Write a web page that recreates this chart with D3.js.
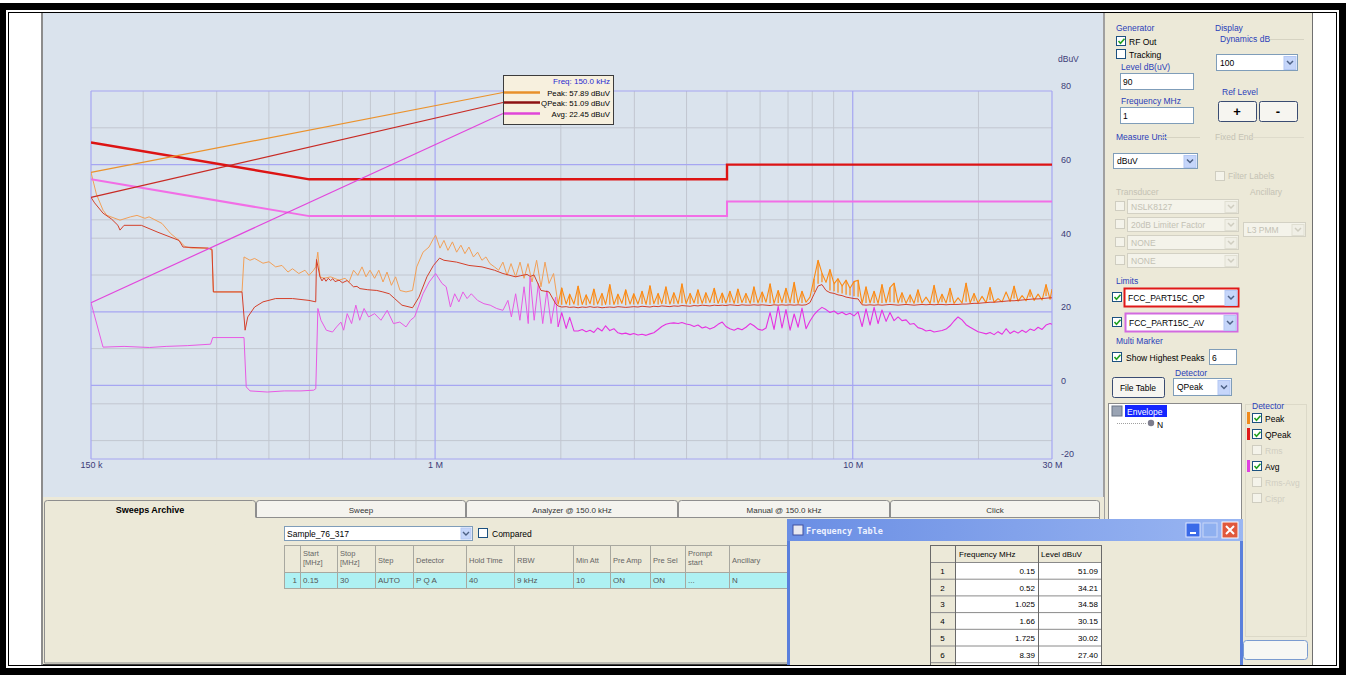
<!DOCTYPE html>
<html>
<head>
<meta charset="utf-8">
<script src="https://cdn.jsdelivr.net/npm/d3@7"></script>
<style>
  body { margin: 0; background: #fff; }
  svg { display: block; font-family: "Liberation Sans", Arial, sans-serif; }
</style>
</head>
<body>
<script>
/* ===== DATA ===== */

var freqTicks = [0.15, 1, 10, 30];
var freqTickNames = ['150 k', '1 M', '10 M', '30 M'];
var freqMinor = [0.2, 0.3, 0.4, 0.5, 0.6, 0.7, 0.8, 0.9, 2, 3, 4, 5, 6, 7, 8, 9, 20];
var levelTicks = [80, 60, 40, 20, 0, -20];
var levelMajor = [80, 60, 20, 0, -20];
var levelMinor = [70, 45, 40, 30, 10, -5, -15];

var limitFreqs = [0.15, 0.5, 5, 5, 30];
var qpLimit = [66, 56, 56, 60, 60];
var avLimit = [56, 46, 46, 50, 50];

// below 1.95 MHz: [MHz, dBuV]
var lfPeak = [[0.150,57.9],[0.1545,52.0],[0.1603,47.6],[0.1638,46.2],[0.176,44.9],[0.1865,45.8],[0.1933,46.2],
  [0.202,45.4],[0.2066,45.8],[0.2219,44.0],[0.2325,41.3],[0.2437,39.4],[0.2519,37.7],[0.261,37.3],[0.2859,37.3],
  [0.2923,36.7],[0.2945,25.4],[0.3449,25.4],[0.3487,34.9],[0.3604,34.0],[0.3697,34.5],[0.3872,33.2],[0.4002,33.6],
  [0.4152,32.2],[0.4299,32.6],[0.4444,30.8],[0.4556,31.7],[0.4717,30.4],[0.4881,31.3],[0.499,29.9],[0.5118,31.3],
  [0.5178,32.2],[0.5238,36.2],[0.5302,29.5],[0.542,29.1],[0.5621,29.5],[0.5888,28.6],[0.6086,29.1],[0.6222,28.1],
  [0.6378,31.3],[0.6531,29.9],[0.6684,32.2],[0.6833,29.5],[0.6985,31.3],[0.7165,29.1],[0.7332,31.3],[0.7504,28.1],
  [0.7671,30.8],[0.786,27.2],[0.8044,29.5],[0.8241,25.8],[0.8518,25.4],[0.8829,25.8],[0.9035,32.2],[0.9355,36.2],
  [0.9669,37.6],[0.9912,39.9],[1.0028,40.8],[1.0274,37.3],[1.05,39.4],[1.0734,36.7],[1.1003,39.0],[1.1261,36.2],
  [1.1531,38.1],[1.1788,35.8],[1.2051,37.6],[1.2354,34.9],[1.2643,36.2],[1.2946,34.0],[1.3235,34.9],[1.353,33.1],
  [1.387,32.2],[1.4195,31.3],[1.4535,33.5],[1.4868,29.9],[1.5199,33.1],[1.5589,29.5],[1.5972,33.5],[1.6329,29.1],
  [1.6692,33.1],[1.7064,28.1],[1.7502,34.0],[1.7931,26.8],[1.8331,33.5],[1.874,27.7],[1.9215,30.4]];

var lfQPeak = [[0.150,51.1],[0.153,49.6],[0.1603,46.8],[0.168,45.2],[0.174,43.5],[0.176,42.2],[0.180,43.5],
  [0.198,43.5],[0.217,41.6],[0.2437,39.4],[0.2491,37.6],[0.2859,37.3],[0.2923,37.0],[0.2945,25.4],[0.3449,25.4],
  [0.3508,15.0],[0.356,18.6],[0.3697,21.3],[0.3872,22.7],[0.4152,23.6],[0.4556,23.6],[0.499,23.1],[0.5178,22.7],
  [0.52,34.2],[0.5302,29.5],[0.536,28.4],[0.542,29.2],[0.548,28.3],[0.555,29.1],[0.5621,28.5],[0.569,29.0],
  [0.576,28.2],[0.5888,28.6],[0.600,27.9],[0.616,28.5],[0.627,27.6],[0.6378,26.8],[0.650,26.9],[0.661,26.3],
  [0.690,26.0],[0.725,25.8],[0.750,25.4],[0.777,24.9],[0.800,23.6],[0.833,21.8],[0.883,21.1],[0.915,24.0],
  [0.956,29.5],[0.991,32.6],[1.025,34.58],[1.05,34.0],[1.126,33.5],[1.205,32.6],[1.295,32.2],[1.387,31.3],
  [1.4535,30.4],[1.559,29.5],[1.60,29.8],[1.66,30.15],[1.69,29.6],[1.725,30.02],[1.793,25.8],[1.874,25.4],[1.944,22.2]];

var lfAvg = [[0.150,22.45],[0.1603,10.4],[0.180,10.6],[0.207,10.3],[0.227,10.6],[0.255,10.8],[0.290,11.2],
  [0.2935,13.0],[0.3487,13.0],[0.353,-0.4],[0.3604,-1.5],[0.3965,-1.8],[0.4354,-1.5],[0.4774,-1.5],[0.512,-1.3],
  [0.518,-0.9],[0.524,20.9],[0.533,17.7],[0.549,15.0],[0.568,14.5],[0.581,15.9],[0.595,17.2],[0.604,15.0],
  [0.616,19.5],[0.631,16.8],[0.646,21.8],[0.660,17.7],[0.676,20.9],[0.693,18.6],[0.7165,19.5],[0.742,17.7],
  [0.768,20.4],[0.795,16.8],[0.823,17.2],[0.852,15.9],[0.873,17.7],[0.893,18.6],[0.9355,24.9],[0.968,28.1],
  [1.003,30.4],[1.039,27.7],[1.063,26.8],[1.088,21.3],[1.114,24.9],[1.140,22.7],[1.166,25.4],[1.193,23.6],
  [1.221,24.9],[1.264,23.1],[1.309,22.2],[1.355,21.8],[1.404,20.9],[1.4535,20.4],[1.494,23.1],[1.523,18.6],
  [1.559,24.9],[1.596,17.7],[1.633,26.8],[1.671,16.8],[1.688,29.5],[1.727,17.7],[1.767,27.7],[1.810,16.8],
  [1.852,25.8],[1.895,16.8],[1.944,24.0]];

// from 1.97 MHz on, the three detectors share the sweep frequencies
var hfFreqs = [1.97, 2.01, 2.06, 2.10, 2.15, 2.20, 2.25, 2.30, 2.35, 2.40,
  2.45, 2.51, 2.56, 2.62, 2.68, 2.74, 2.80, 2.86, 2.93, 2.99,
  3.06, 3.13, 3.20, 3.27, 3.34, 3.42, 3.49, 3.57, 3.65, 3.73,
  3.82, 3.90, 3.99, 4.08, 4.17, 4.26, 4.36, 4.45, 4.55, 4.66,
  4.76, 4.87, 4.97, 5.08, 5.20, 5.31, 5.43, 5.55, 5.68, 5.80,
  5.93, 6.07, 6.20, 6.34, 6.48, 6.63, 6.77, 6.92, 7.08, 7.24,
  7.40, 7.56, 7.73, 7.90, 8.08, 8.26, 8.44, 8.63, 8.82, 9.02,
  9.22, 9.43, 9.64, 9.85, 10.07, 10.30, 10.53, 10.76, 11.00, 11.25,
  11.50, 11.75, 12.02, 12.28, 12.56, 12.84, 13.12, 13.42, 13.72, 14.02,
  14.33, 14.65, 14.98, 15.32, 15.66, 16.01, 16.36, 16.73, 17.10, 17.48,
  17.87, 18.27, 18.68, 19.10, 19.52, 19.96, 20.40, 20.86, 21.32, 21.80,
  22.28, 22.78, 23.29, 23.81, 24.34, 24.88, 25.44, 26.00, 26.58, 27.18,
  27.78, 28.40, 29.03, 29.68, 30.00];

var hfPeak = [22.0, 26.5, 22.1, 24.8, 22.1, 27.0, 22.0, 24.6, 22.2, 26.2,
  22.1, 25.0, 22.0, 27.4, 22.0, 24.8, 22.3, 26.0, 22.1, 24.9,
  22.1, 25.6, 22.0, 27.1, 22.2, 25.0, 22.2, 26.8, 22.1, 25.2,
  22.2, 27.6, 22.2, 25.0, 22.4, 26.0, 22.3, 25.2, 22.5, 26.4,
  22.3, 25.1, 22.4, 25.6, 22.3, 26.2, 22.5, 25.0, 22.3, 26.8,
  22.4, 25.4, 22.6, 27.6, 22.3, 25.8, 22.5, 26.4, 22.4, 28.0,
  22.3, 25.6, 22.6, 24.0, 29.0, 34.0, 30.5, 28.0, 31.5, 27.6,
  29.0, 27.0, 28.6, 26.4, 28.2, 28.6, 22.3, 26.8, 22.4, 25.6,
  22.3, 27.4, 22.5, 26.6, 27.8, 22.4, 25.2, 22.3, 24.6, 22.3,
  26.0, 22.4, 24.0, 22.3, 27.2, 22.3, 24.8, 22.4, 26.4, 22.3,
  23.8, 22.4, 27.8, 22.4, 25.0, 22.4, 24.2, 22.5, 26.6, 22.6,
  23.6, 22.7, 25.4, 22.8, 27.0, 22.9, 24.4, 23.0, 26.0, 23.1,
  24.8, 23.2, 27.4, 23.4, 26.2];

var hfQPeak = [21.6, 21.3, 21.4, 21.2, 21.3, 21.1, 21.3, 21.2, 21.4, 21.2,
  21.3, 21.1, 21.2, 21.3, 21.2, 21.4, 21.3, 21.2, 21.3, 21.4,
  21.3, 21.5, 21.4, 21.3, 21.5, 21.4, 21.6, 21.5, 21.4, 21.6,
  21.5, 21.7, 21.6, 21.5, 21.7, 21.6, 21.8, 21.7, 21.6, 21.8,
  21.7, 21.8, 21.7, 21.9, 21.8, 21.7, 21.9, 21.8, 21.8, 21.9,
  21.8, 21.9, 21.8, 21.7, 21.9, 21.8, 21.9, 21.8, 21.9, 21.8,
  21.9, 21.8, 21.9, 22.5, 24.8, 27.0, 27.4, 25.8, 25.2, 25.0,
  24.6, 24.4, 24.0, 23.8, 23.6, 23.5, 21.9, 21.8, 21.9, 21.8,
  21.9, 21.8, 21.9, 22.0, 21.9, 21.8, 21.9, 22.0, 21.9, 21.8,
  21.9, 22.0, 21.9, 22.0, 21.9, 22.0, 22.0, 21.9, 22.0, 22.0,
  22.0, 22.1, 22.1, 22.2, 22.3, 22.3, 22.4, 22.5, 22.6, 22.6,
  22.7, 22.8, 22.9, 23.0, 23.0, 23.1, 23.2, 23.3, 23.4, 23.5,
  23.5, 23.6, 23.7, 23.8, 23.8];

var hfAvg = [15.9, 19.8, 15.5, 18.5, 14.8, 14.8, 15.2, 14.6, 15.0, 14.4,
  15.6, 14.8, 16.2, 14.9, 15.4, 14.3, 14.0, 14.2, 13.8, 14.1,
  13.7, 13.9, 13.6, 14.0, 14.3, 15.2, 16.0, 16.6, 16.9, 17.0,
  16.8, 17.1, 16.7, 16.5, 16.0, 16.4, 15.6, 15.9, 15.3, 15.8,
  16.6, 17.2, 16.0, 15.4, 15.0, 15.5, 15.1, 15.8, 16.8, 16.2,
  15.3, 15.0, 15.6, 19.8, 15.2, 21.5, 15.6, 20.6, 15.0, 19.4,
  15.8, 21.0, 15.4, 17.5, 19.2, 20.4, 21.2, 20.6, 19.8, 20.2,
  19.4, 19.9, 19.2, 19.6, 18.9, 20.0, 16.0, 20.8, 16.4, 21.2,
  16.8, 20.5, 17.4, 19.8, 17.6, 18.6, 17.6, 17.8, 16.6, 16.8,
  15.7, 15.4, 14.8, 15.0, 14.5, 14.7, 14.9, 15.3, 16.2, 17.5,
  18.6, 17.8, 16.5, 15.8, 15.2, 14.6, 14.3, 14.0, 14.4, 13.8,
  14.6, 13.9, 15.4, 14.1, 14.8, 14.2, 15.0, 14.4, 15.3, 14.9,
  15.8, 15.2, 16.4, 16.8, 16.6];

var cursorFreq = 0.15;
var cursorNames = ['Peak', 'QPeak', 'Avg'];
var cursorValues = [57.89, 51.09, 22.45];

var tableFreqs = [0.15, 0.52, 1.025, 1.66, 1.725, 8.39];
var tableLevels = [51.09, 34.21, 34.58, 30.15, 30.02, 27.40];

var tabNames = ['Sweeps Archive', 'Sweep', 'Analyzer @ 150.0 kHz', 'Manual @ 150.0 kHz', 'Click'];
var sweepHeads = ['', 'Start|[MHz]', 'Stop|[MHz]', 'Step', 'Detector', 'Hold Time', 'RBW', 'Min Att',
  'Pre Amp', 'Pre Sel', 'Prompt|start', 'Ancillary'];
var sweepRow = ['1', '0.15', '30', 'AUTO', 'P Q A', '40', '9 kHz', '10', 'ON', 'ON', '...', 'N'];


/* ===== PAGE ===== */

var svg = d3.select('body')
  .append('svg')
  .attr('width', 1346)
  .attr('height', 675);

var defs = svg.append('defs');
var grad = defs.append('linearGradient').attr('id', 'titleGrad')
  .attr('x1', 0).attr('x2', 1).attr('y1', 0).attr('y2', 0);
grad.append('stop').attr('offset', '0%').attr('stop-color', '#6a8ee4');
grad.append('stop').attr('offset', '100%').attr('stop-color', '#9ab6f2');
defs.append('clipPath').attr('id', 'plotClip')
  .append('rect').attr('x', 91).attr('y', 88).attr('width', 961).attr('height', 372);

function box(g, x, y, w, h, fill, stroke, sw) {
  return g.append('rect')
    .attr('x', x).attr('y', y)
    .attr('width', w).attr('height', h)
    .attr('fill', fill || 'none')
    .attr('stroke', stroke || 'none')
    .attr('stroke-width', sw || 1);
}

function txt(g, x, y, s, o) {
  o = o || {};
  return g.append('text')
    .attr('x', x).attr('y', y)
    .attr('font-size', o.size || 8.5)
    .attr('font-weight', o.bold ? 'bold' : null)
    .attr('text-anchor', o.anchor || 'start')
    .attr('fill', o.fill || '#000')
    .attr('font-family', o.font || null)
    .text(s);
}

function checkbox(g, x, y, checked, off) {
  box(g, x + 0.5, y + 0.5, 9, 9, off ? '#f4f3ea' : '#fff', off ? '#cfcdc0' : '#1c5180');
  if (checked) {
    g.append('path')
      .attr('d', 'M' + (x + 2.5) + ',' + (y + 5) + ' l2,2.3 l4,-4.6')
      .attr('fill', 'none').attr('stroke', '#21a121').attr('stroke-width', 1.6);
  }
}

function combo(g, x, y, w, h, s, o) {
  o = o || {};
  box(g, x + 0.5, y + 0.5, w, h, o.off ? '#f4f3ea' : '#fff',
    o.border || (o.off ? '#d3d1c4' : '#7f9db9'), o.bw || 1);
  box(g, x + w - 13, y + 2.5, 12, h - 3, o.off ? '#f0efe6' : '#c6d6fa', o.off ? '#e0dfd2' : '#b4c8f4');
  g.append('path')
    .attr('d', 'M' + (x + w - 10) + ',' + (y + h / 2 - 1) + ' l3,3 l3,-3')
    .attr('fill', 'none').attr('stroke', o.off ? '#cfcdc0' : '#4d6185').attr('stroke-width', 1.5);
  txt(g, x + 4, y + h / 2 + 3.5, s, { fill: o.off ? '#c3c1b4' : '#000' });
}

function button(g, x, y, w, h, s, o) {
  o = o || {};
  g.append('rect').attr('x', x + 0.5).attr('y', y + 0.5).attr('width', w).attr('height', h)
    .attr('rx', 2).attr('fill', '#f6f5f0').attr('stroke', '#3a4c72');
  txt(g, x + w / 2, y + h / 2 + (o.size ? o.size / 2.6 : 3.5), s,
    { anchor: 'middle', size: o.size, bold: o.bold });
}

/* ===== FRAME ===== */

box(svg, 0, 0, 1346, 675, '#000');
box(svg, 0, 0, 1346, 3, '#fff');
box(svg, 6, 10, 1333, 658, '#fff');
box(svg, 8.5, 12.5, 1328, 653, 'none', '#000');

/* ===== PLOT PANEL ===== */

box(svg, 42, 13, 1062, 484, '#dae3ed');
svg.append('line').attr('x1', 42).attr('x2', 42).attr('y1', 13).attr('y2', 665)
  .attr('stroke', '#8c8c8c').attr('stroke-width', 2);

var x = d3.scaleLog().domain([0.15, 30]).range([91, 1052]);
var y = d3.scaleLinear().domain([-20, 80]).range([459, 91]);

var grid = svg.append('g');
grid.selectAll('.hmin').data(levelMinor).enter().append('line')
  .attr('x1', 91).attr('x2', 1052)
  .attr('y1', function(d) { return y(d); }).attr('y2', function(d) { return y(d); })
  .attr('stroke', '#c2c7d0').attr('stroke-width', 1);
grid.selectAll('.vmin').data(freqMinor).enter().append('line')
  .attr('y1', 91).attr('y2', 459)
  .attr('x1', function(d) { return x(d); }).attr('x2', function(d) { return x(d); })
  .attr('stroke', '#c2c7d0').attr('stroke-width', 1);
grid.selectAll('.hmaj').data(levelMajor).enter().append('line')
  .attr('x1', 91).attr('x2', 1052)
  .attr('y1', function(d) { return y(d); }).attr('y2', function(d) { return y(d); })
  .attr('stroke', '#a6a6f2').attr('stroke-width', 1.2);
grid.selectAll('.vmaj').data(freqTicks).enter().append('line')
  .attr('y1', 91).attr('y2', 459)
  .attr('x1', function(d) { return x(d); }).attr('x2', function(d) { return x(d); })
  .attr('stroke', '#a6a6f2').attr('stroke-width', 1.2);

/* ===== AXES ===== */

var xAxis = d3.axisBottom(x)
  .tickValues(freqTicks)
  .tickFormat(function(d, i) { return freqTickNames[i]; })
  .tickSize(0);
var gx = svg.append('g')
  .attr('transform', 'translate(0,459)')
  .call(xAxis);
gx.select('.domain').remove();
gx.selectAll('text').attr('font-size', 9).attr('fill', '#3c3c78')
  .attr('font-family', '"Liberation Sans", Arial, sans-serif');

var yAxis = d3.axisRight(y)
  .tickValues(levelTicks)
  .tickFormat(function(d) { return String(d); })
  .tickSize(0);
var gy = svg.append('g')
  .attr('transform', 'translate(1058,-5)')
  .call(yAxis);
gy.select('.domain').remove();
gy.selectAll('text').attr('font-size', 9).attr('fill', '#3c3c78')
  .attr('font-family', '"Liberation Sans", Arial, sans-serif');
txt(svg, 1058, 62, 'dBuV', { size: 8.5, fill: '#3c3c78' });

/* ===== TRACES ===== */

var line = d3.line()
  .x(function(d) { return x(d[0]); })
  .y(function(d) { return y(d[1]); });

var plot = svg.append('g').attr('clip-path', 'url(#plotClip)');

function hf(values) {
  return hfFreqs.map(function(f, i) { return [f, values[i]]; });
}
function limit(values) {
  return limitFreqs.map(function(f, i) { return [f, values[i]]; });
}

function trace(pts, color, w) {
  plot.append('path')
    .attr('d', line(pts))
    .attr('fill', 'none')
    .attr('stroke', color)
    .attr('stroke-width', w)
    .attr('stroke-linejoin', 'round');
}

// avg first, then peak, then quasi-peak on top
trace(lfAvg.concat(hf(hfAvg).slice(0, 1)), '#e85ae4', 1);
trace(hf(hfAvg), '#e632e0', 1.1);

trace(lfPeak.concat(hf(hfPeak).slice(0, 1)), '#f2a058', 1);
trace(hf(hfPeak), '#fb8a14', 1.1);
// peak spikes rising from the quasi-peak floor
plot.selectAll('.spike')
  .data(hfFreqs.map(function(f, i) { return { f: f, lo: hfQPeak[i], hi: hfPeak[i] }; })
    .filter(function(d) { return d.hi - d.lo > 2.5; }))
  .enter().append('line')
  .attr('x1', function(d) { return x(d.f); })
  .attr('x2', function(d) { return x(d.f); })
  .attr('y1', function(d) { return y(d.lo + 0.6); })
  .attr('y2', function(d) { return y(d.hi); })
  .attr('stroke', '#fb8a14')
  .attr('stroke-width', 1.2);

trace(lfQPeak.concat(hf(hfQPeak)), '#d4402a', 1);

plot.append('path').attr('d', line(limit(avLimit)))
  .attr('fill', 'none').attr('stroke', '#f26ee6').attr('stroke-width', 2);
plot.append('path').attr('d', line(limit(qpLimit)))
  .attr('fill', 'none').attr('stroke', '#dd1414').attr('stroke-width', 2.4);

/* ===== CURSOR READOUT ===== */

var cursorColors = ['#eb922c', '#c82a24', '#e246dc'];
var legendColors = ['#e8902a', '#8e1212', '#e046d8'];
var rowY = [92.5, 102.5, 113.5];

svg.selectAll('.conn').data(cursorValues).enter().append('line')
  .attr('x1', x(cursorFreq))
  .attr('y1', function(d) { return y(d); })
  .attr('x2', 503)
  .attr('y2', function(d, i) { return rowY[i]; })
  .attr('stroke', function(d, i) { return cursorColors[i]; })
  .attr('stroke-width', 1.2);

box(svg, 503.5, 75.5, 110, 49, '#f7f0de', '#3c3c3c');
txt(svg, 610, 84, 'Freq: 150.0 kHz', { anchor: 'end', size: 8, fill: '#2a2ad0' });
cursorValues.forEach(function(v, i) {
  svg.append('line').attr('x1', 504).attr('x2', 540).attr('y1', rowY[i]).attr('y2', rowY[i])
    .attr('stroke', legendColors[i]).attr('stroke-width', 2.6);
  txt(svg, 610, rowY[i] + 3, cursorNames[i] + ': ' + v.toFixed(2) + ' dBuV', { anchor: 'end', size: 7.8 });
});

/* ===== RIGHT PANEL ===== */

var rp = svg.append('g');
box(rp, 1104, 13, 209, 652, '#ece9d8');
rp.append('line').attr('x1', 1104).attr('x2', 1104).attr('y1', 13).attr('y2', 665).attr('stroke', '#a0a0a0').attr('stroke-width', 2);
rp.append('line').attr('x1', 1312.5).attr('x2', 1312.5).attr('y1', 13).attr('y2', 665).attr('stroke', '#707070');
var blue = '#2a40b8', grey = '#c4c2b4';

txt(rp, 1116, 31, 'Generator', { fill: blue });
checkbox(rp, 1116, 36, true);
txt(rp, 1129, 45, 'RF Out');
checkbox(rp, 1116, 49, false);
txt(rp, 1129, 58, 'Tracking');
txt(rp, 1121, 70, 'Level dB(uV)', { fill: blue });
box(rp, 1120.5, 73.5, 73, 16, '#fff', '#7f9db9');
txt(rp, 1123, 85, '90');
txt(rp, 1121, 104, 'Frequency MHz', { fill: blue });
box(rp, 1120.5, 107.5, 73, 16, '#fff', '#7f9db9');
txt(rp, 1123, 119, '1');

txt(rp, 1215, 31, 'Display', { fill: blue });
txt(rp, 1220, 42, 'Dynamics dB', { fill: blue });
rp.append('line').attr('x1', 1270).attr('x2', 1304).attr('y1', 39.5).attr('y2', 39.5).attr('stroke', '#d6d3c2');
combo(rp, 1216, 54, 81, 16, '100');
txt(rp, 1222, 95, 'Ref Level', { fill: blue });
button(rp, 1218, 101, 38, 20, '+', { size: 13, bold: true });
button(rp, 1259, 101, 38, 20, '-', { size: 13, bold: true });

txt(rp, 1116, 140, 'Measure Unit', { fill: blue });
rp.append('line').attr('x1', 1160).attr('x2', 1200).attr('y1', 137.5).attr('y2', 137.5).attr('stroke', '#d6d3c2');
combo(rp, 1113, 153, 84, 15, 'dBuV');
txt(rp, 1215, 140, 'Fixed End', { fill: grey });
rp.append('line').attr('x1', 1250).attr('x2', 1304).attr('y1', 137.5).attr('y2', 137.5).attr('stroke', '#dedbcb');
checkbox(rp, 1215, 171, false, true);
txt(rp, 1228, 179, 'Filter Labels', { fill: grey });

txt(rp, 1116, 195, 'Transducer', { fill: grey });
txt(rp, 1250, 195, 'Ancillary', { fill: grey });
['NSLK8127', '20dB Limiter Factor', 'NONE', 'NONE'].forEach(function(s, i) {
  var yy = 199 + i * 18;
  checkbox(rp, 1115, yy + 2, false, true);
  combo(rp, 1127, yy, 111, 14, s, { off: true });
});
combo(rp, 1243, 222, 62, 14, 'L3 PMM', { off: true });

txt(rp, 1116, 284, 'Limits', { fill: blue });
checkbox(rp, 1112, 292, true);
combo(rp, 1124, 288, 114, 18, 'FCC_PART15C_QP', { border: '#e01818', bw: 2 });
checkbox(rp, 1112, 317, true);
combo(rp, 1125, 313, 112, 18, 'FCC_PART15C_AV', { border: '#d26ae0', bw: 2 });

txt(rp, 1116, 344, 'Multi Marker', { fill: blue });
checkbox(rp, 1112, 352, true);
txt(rp, 1126, 361, 'Show Highest Peaks');
box(rp, 1209.5, 349.5, 27, 15, '#fff', '#7f9db9');
txt(rp, 1212, 361, '6');
txt(rp, 1175, 376, 'Detector', { fill: blue });
button(rp, 1112, 377, 52, 20, 'File Table');
combo(rp, 1173, 378, 58, 17, 'QPeak');

box(rp, 1108.5, 403.5, 133, 250, '#fff', '#8a8a8a');
box(rp, 1112, 406, 10, 10, '#9aa4b4', '#6a7484');
box(rp, 1125, 405, 42, 12, '#1426ff');
txt(rp, 1127, 414.5, 'Envelope', { fill: '#fff' });
rp.append('line').attr('x1', 1117).attr('x2', 1146).attr('y1', 423.5).attr('y2', 423.5)
  .attr('stroke', '#a0a0a0').attr('stroke-dasharray', '1,1');
rp.append('circle').attr('cx', 1151).attr('cy', 423).attr('r', 3.2).attr('fill', '#7c7c8c');
txt(rp, 1157, 428, 'N');

box(rp, 1245.5, 404.5, 61, 232, 'none', '#dcd9c8');
txt(rp, 1252, 409, 'Detector', { fill: blue });
var detNames = ['Peak', 'QPeak', 'Rms', 'Avg', 'Rms-Avg', 'Cispr'];
var detOn = [true, true, false, true, false, false];
var detBars = ['#f08a1c', '#e01a1a', null, '#e040e0', null, null];
detNames.forEach(function(s, i) {
  var yy = 413 + i * 16;
  if (detBars[i]) box(rp, 1247, yy - 1, 3, 12, detBars[i]);
  checkbox(rp, 1252, yy, detOn[i], !detOn[i]);
  txt(rp, 1265, yy + 8.5, s, { fill: detOn[i] ? '#000' : '#d0cec2' });
});
rp.append('rect').attr('x', 1243.5).attr('y', 640.5).attr('width', 64).attr('height', 19).attr('rx', 3)
  .attr('fill', '#f7f7f4').attr('stroke', '#7b9bd0');

/* ===== BOTTOM PANEL ===== */

var bp = svg.append('g');
box(bp, 43, 497, 1061, 168, '#ece9d8');
bp.append('line').attr('x1', 43).attr('x2', 1104).attr('y1', 664.5).attr('y2', 664.5).attr('stroke', '#404040');

var tabEdges = [44, 256, 466, 678, 890, 1100];
tabNames.forEach(function(s, i) {
  var x0 = tabEdges[i], x1 = tabEdges[i + 1];
  bp.append('path')
    .attr('d', 'M' + (x0 + 0.5) + ',' + (i ? 517.5 : 663) + ' V503 Q' + (x0 + 0.5) + ',500.5 ' + (x0 + 3.5) + ',500.5 H' +
      (x1 - 3.5) + ' Q' + (x1 - 0.5) + ',500.5 ' + (x1 - 0.5) + ',503 V517.5')
    .attr('fill', i ? '#f4f3ee' : '#ece9d8').attr('stroke', '#8e8e8e');
  txt(bp, (x0 + x1) / 2, 513, s, { anchor: 'middle', bold: i === 0, size: i === 0 ? 9 : 8, fill: i ? '#333' : '#000' });
});
bp.append('path').attr('d', 'M256,517.5 H1099.5 V663 H44.5')
  .attr('fill', 'none').attr('stroke', '#8e8e8e');

box(bp, 284.5, 526.5, 188, 14, '#fff', '#7f9db9');
txt(bp, 287, 537, 'Sample_76_317');
box(bp, 461, 528, 10, 11, '#c6d6fa', '#b4c8f4');
bp.append('path').attr('d', 'M463,532 l3,3 l3,-3').attr('fill', 'none').attr('stroke', '#4d6185').attr('stroke-width', 1.4);
checkbox(bp, 478, 528, false);
txt(bp, 492, 537, 'Compared');

var colEdges = [284, 300, 337, 375, 413, 466, 514, 573, 610, 650, 685, 729, 787];
box(bp, 284, 572, 503, 16, '#aef1f3');
sweepHeads.forEach(function(s, i) {
  var c0 = colEdges[i];
  var parts = s.split('|');
  parts.forEach(function(p, k) {
    txt(bp, c0 + 3, parts.length > 1 ? 556 + k * 9 : 563, p, { size: 7.5, fill: '#666' });
  });
  txt(bp, i ? c0 + 3 : colEdges[1] - 3, 583, sweepRow[i], { size: 8, fill: '#555', anchor: i ? 'start' : 'end' });
});
colEdges.forEach(function(c) {
  bp.append('line').attr('x1', c + 0.5).attr('x2', c + 0.5).attr('y1', 545).attr('y2', 588).attr('stroke', '#a8a8a0');
});
[545, 572, 588].forEach(function(r) {
  bp.append('line').attr('x1', 284).attr('x2', 787).attr('y1', r + 0.5).attr('y2', r + 0.5).attr('stroke', '#a8a8a0');
});

/* ===== FREQUENCY TABLE WINDOW ===== */

var fw = svg.append('g');
box(fw, 787, 519, 456, 146, '#5a7fdc');
box(fw, 790, 541, 450, 124, '#ece9d8');
box(fw, 787, 519, 456, 22, 'url(#titleGrad)');
box(fw, 793, 525, 10, 10, '#e8e8f0', '#4050a0');
txt(fw, 806, 534, 'Frequency Table', { font: '"DejaVu Sans Mono", monospace', size: 8.5, fill: '#eef2ff', bold: true });
box(fw, 1186, 523, 14, 14, '#3a6ae8', '#e0e8ff');
box(fw, 1190, 532, 6, 2, '#fff');
box(fw, 1203, 523, 14, 14, '#8fb0f0', '#c8d6f8');
box(fw, 1222, 522, 16, 16, '#e0583c', '#fff');
fw.append('path').attr('d', 'M1226,526 l8,8 M1234,526 l-8,8').attr('stroke', '#fff').attr('stroke-width', 2);

var tx = [930, 955, 1038, 1101];
var rowH = 16.7;
box(fw, 930, 545, 171, 120, '#fff');
box(fw, 930, 545, 25, 120, '#ece9d8');
box(fw, 955, 545, 146, 17, '#ece9d8');
txt(fw, 959, 557, 'Frequency MHz', { size: 8 });
txt(fw, 1041, 557, 'Level dBuV', { size: 8 });
tableFreqs.concat([null]).forEach(function(f, i) {
  var r0 = 562 + i * rowH;
  fw.append('line').attr('x1', 930).attr('x2', 1101).attr('y1', r0 + 0.5).attr('y2', r0 + 0.5).attr('stroke', '#8a8a8a');
  if (f === null) return;
  txt(fw, 942.5, r0 + 12, String(i + 1), { size: 8, anchor: 'middle' });
  txt(fw, 1035, r0 + 12, String(f), { size: 8, anchor: 'end' });
  txt(fw, 1098, r0 + 12, tableLevels[i].toFixed(2), { size: 8, anchor: 'end' });
});
tx.forEach(function(c) {
  fw.append('line').attr('x1', c + 0.5).attr('x2', c + 0.5).attr('y1', 545).attr('y2', 665).attr('stroke', '#6a6a6a');
});
fw.append('line').attr('x1', 930).attr('x2', 1101).attr('y1', 545.5).attr('y2', 545.5).attr('stroke', '#6a6a6a');
</script>
</body>
</html>
